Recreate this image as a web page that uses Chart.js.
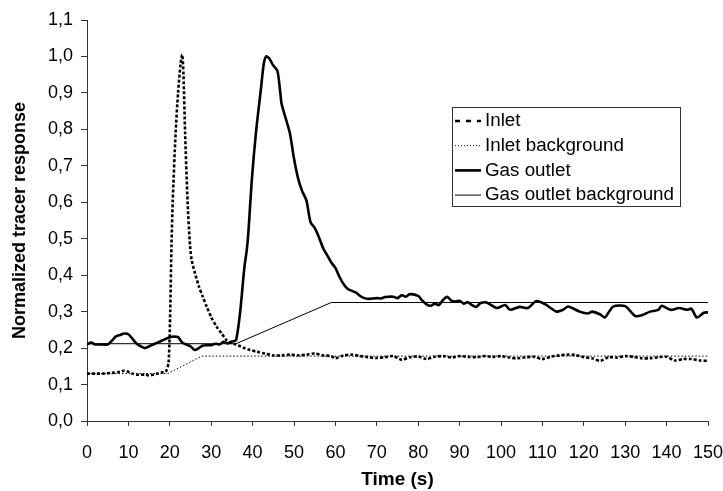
<!DOCTYPE html>
<html>
<head>
<meta charset="utf-8">
<script src="https://cdn.jsdelivr.net/npm/chart.js@4.4.0/dist/chart.umd.min.js"></script>
<style>
  html, body { margin: 0; padding: 0; background: #fff; }
  #wrap { width: 723px; height: 491px; }
</style>
</head>
<body>
<div id="wrap"><canvas id="grafica" width="723" height="491"></canvas></div>
<script>
// tiempos (s) y respuestas normalizadas
var inletT = [0, 2, 4, 6, 8, 9, 10, 11, 12, 14, 15, 16, 17, 18, 19, 19.7, 20.1, 20.4, 20.7, 21.4, 22, 22.6, 23, 23.3, 23.7, 24.3, 24.9, 25.3, 26.1, 27, 28, 28.9, 30, 31.3, 32.5, 33.7, 35, 36, 37, 38, 39.4, 41, 43, 45, 47, 49, 51, 53, 55, 57, 59, 60, 62, 64, 66, 68, 70, 72, 74, 76, 78, 80, 82, 84, 86, 88, 90, 92, 94, 96, 98, 100, 102, 104, 106, 108, 110, 112, 114, 116, 118, 120, 122, 124, 126, 128, 130, 132, 134, 136, 138, 140, 142, 144, 146, 148, 150];
var inletY = [0.13, 0.13, 0.13, 0.132, 0.135, 0.138, 0.135, 0.13, 0.127, 0.127, 0.125, 0.127, 0.13, 0.133, 0.135, 0.16, 0.3, 0.48, 0.6, 0.79, 0.9, 0.98, 1.005, 0.95, 0.79, 0.6, 0.48, 0.44, 0.405, 0.37, 0.34, 0.314, 0.285, 0.259, 0.24, 0.222, 0.213, 0.21, 0.205, 0.2, 0.195, 0.19, 0.185, 0.18, 0.18, 0.182, 0.18, 0.182, 0.185, 0.18, 0.178, 0.172, 0.18, 0.182, 0.178, 0.175, 0.173, 0.175, 0.178, 0.168, 0.175, 0.177, 0.17, 0.176, 0.178, 0.174, 0.178, 0.176, 0.175, 0.178, 0.176, 0.178, 0.174, 0.172, 0.175, 0.176, 0.17, 0.176, 0.18, 0.182, 0.181, 0.175, 0.172, 0.165, 0.175, 0.174, 0.178, 0.176, 0.172, 0.172, 0.175, 0.176, 0.166, 0.17, 0.17, 0.166, 0.165];

var inletBgT = [0, 19.5, 27.7, 150];
var inletBgY = [0.13, 0.13, 0.178, 0.178];

var gasT = [0, 1, 2, 3, 5, 6, 7, 8, 9, 10, 11, 12, 13, 14, 15, 16, 17, 18, 19, 20, 21, 22, 23, 24, 25, 26, 27, 28, 29, 30, 31, 32, 33, 34, 35, 36, 37, 38, 38.6, 39, 39.8, 40.8, 42, 42.7, 43.3, 44, 45, 46, 46.7, 47, 48, 49, 50, 51, 52, 53, 54, 55, 56, 57, 58, 59, 60, 61, 62, 63, 64, 65, 66, 67, 68, 70, 71, 72, 74, 75, 76, 77, 78, 80, 81, 82, 83, 84, 85, 86, 87, 88, 89, 90, 91, 92, 93, 94, 95, 96.5, 99, 101, 102.2, 104.5, 106.5, 108.6, 111, 112, 113.4, 115, 116.2, 119, 121, 122, 124, 125.1, 127.1, 130, 132.4, 134, 136, 138, 138.8, 141, 143, 145, 146, 147.3, 149, 150];
var gasY = [0.21, 0.215, 0.21, 0.21, 0.21, 0.22, 0.232, 0.236, 0.24, 0.238, 0.225, 0.212, 0.205, 0.2, 0.205, 0.21, 0.215, 0.22, 0.225, 0.23, 0.232, 0.23, 0.215, 0.21, 0.205, 0.195, 0.2, 0.207, 0.208, 0.208, 0.212, 0.21, 0.217, 0.213, 0.218, 0.222, 0.3, 0.42, 0.47, 0.52, 0.66, 0.79, 0.91, 0.98, 1.0, 0.995, 0.975, 0.96, 0.9, 0.87, 0.83, 0.79, 0.72, 0.665, 0.63, 0.605, 0.545, 0.53, 0.505, 0.475, 0.455, 0.435, 0.42, 0.395, 0.375, 0.362, 0.357, 0.352, 0.343, 0.337, 0.335, 0.337, 0.336, 0.34, 0.341, 0.337, 0.345, 0.341, 0.348, 0.343, 0.33, 0.32, 0.316, 0.322, 0.318, 0.332, 0.341, 0.33, 0.328, 0.33, 0.322, 0.326, 0.318, 0.313, 0.323, 0.325, 0.31, 0.318, 0.305, 0.313, 0.31, 0.329, 0.318, 0.31, 0.3, 0.305, 0.314, 0.3, 0.295, 0.3, 0.292, 0.284, 0.314, 0.315, 0.288, 0.29, 0.3, 0.305, 0.316, 0.305, 0.31, 0.305, 0.308, 0.284, 0.297, 0.298];

var gasBgT = [0, 36, 59, 150];
var gasBgY = [0.212, 0.212, 0.325, 0.325];

var etiquetas = ["Inlet", "Inlet background", "Gas outlet", "Gas outlet background"];

function puntos(t, y) {
    return t.map(function (v, i) { return { x: v, y: y[i] }; });
}

// leyenda dibujada dentro del area de la grafica
var leyendaCaja = {
    id: 'leyendaCaja',
    afterDraw: function (chart) {
        var ctx = chart.ctx;
        var x0 = 452, y0 = 107, w = 228, h = 99;
        ctx.save();
        ctx.fillStyle = '#fff';
        ctx.fillRect(x0, y0, w, h);
        ctx.strokeStyle = '#333';
        ctx.lineWidth = 1;
        ctx.strokeRect(x0 + 0.5, y0 + 0.5, w, h);
        ctx.font = '18.8px "Liberation Sans", Arial, sans-serif';
        ctx.textBaseline = 'middle';
        ctx.fillStyle = '#000';
        chart.data.datasets.forEach(function (ds, i) {
            var yy = y0 + 14 + i * 24.7;
            ctx.beginPath();
            ctx.lineWidth = ds.borderWidth;
            ctx.strokeStyle = ds.borderColor;
            ctx.setLineDash(ds.legendDash || []);
            ctx.moveTo(x0 + 3, yy);
            ctx.lineTo(x0 + 29, yy);
            ctx.stroke();
            ctx.setLineDash([]);
            ctx.fillText(ds.label, x0 + 33, yy);
        });
        ctx.restore();
    }
};

var ctxGrafica = document.getElementById('grafica').getContext('2d');
new Chart(ctxGrafica, {
    type: 'line',
    data: {
        datasets: [
            { label: etiquetas[0], data: puntos(inletT, inletY), borderColor: '#000', borderWidth: 2.6, borderDash: [3, 2], legendDash: [5, 6], pointRadius: 0, tension: 0.25 },
            { label: etiquetas[1], data: puntos(inletBgT, inletBgY), borderColor: '#000', borderWidth: 1, borderDash: [1.5, 2], legendDash: [1, 2], pointRadius: 0, tension: 0 },
            { label: etiquetas[2], data: puntos(gasT, gasY), borderColor: '#000', borderWidth: 2.6, pointRadius: 0, tension: 0.25 },
            { label: etiquetas[3], data: puntos(gasBgT, gasBgY), borderColor: '#000', borderWidth: 1, pointRadius: 0, tension: 0 }
        ]
    },
    options: {
        responsive: false,
        animation: false,
        layout: { padding: { left: 0, top: 20, right: 15, bottom: 0 } },
        plugins: { legend: { display: false }, tooltip: { enabled: false } },
        scales: {
            x: {
                type: 'linear',
                min: 0, max: 150,
                grid: { drawOnChartArea: false, tickLength: 5, color: '#333' },
                border: { color: '#333', width: 1 },
                ticks: { stepSize: 10, padding: 16, color: '#000', maxRotation: 0, font: { family: '"Liberation Sans", Arial', size: 18 } },
                title: { display: true, text: 'Time (s)', color: '#000', padding: { top: 0, bottom: 0 }, font: { family: '"Liberation Sans", Arial', size: 19, weight: 'bold' } },
                afterFit: function (s) { s.height = 70; s.paddingLeft = 0; s.paddingRight = 0; }
            },
            y: {
                min: 0, max: 1.1,
                grid: { drawOnChartArea: false, tickLength: 6, color: '#333' },
                border: { color: '#333', width: 1 },
                ticks: {
                    stepSize: 0.1, padding: 8, color: '#000',
                    font: { family: '"Liberation Sans", Arial', size: 18 },
                    callback: function (v) { return v.toFixed(1).replace('.', ','); }
                },
                title: { display: true, text: 'Normalized tracer response', color: '#000', padding: { top: 9, bottom: 0 }, font: { family: '"Liberation Sans", Arial', size: 18, weight: 'bold' } },
                afterFit: function (s) { s.width = 87; s.paddingTop = 0; s.paddingBottom = 0; }
            }
        }
    },
    plugins: [leyendaCaja]
});
</script>
</body>
</html>
